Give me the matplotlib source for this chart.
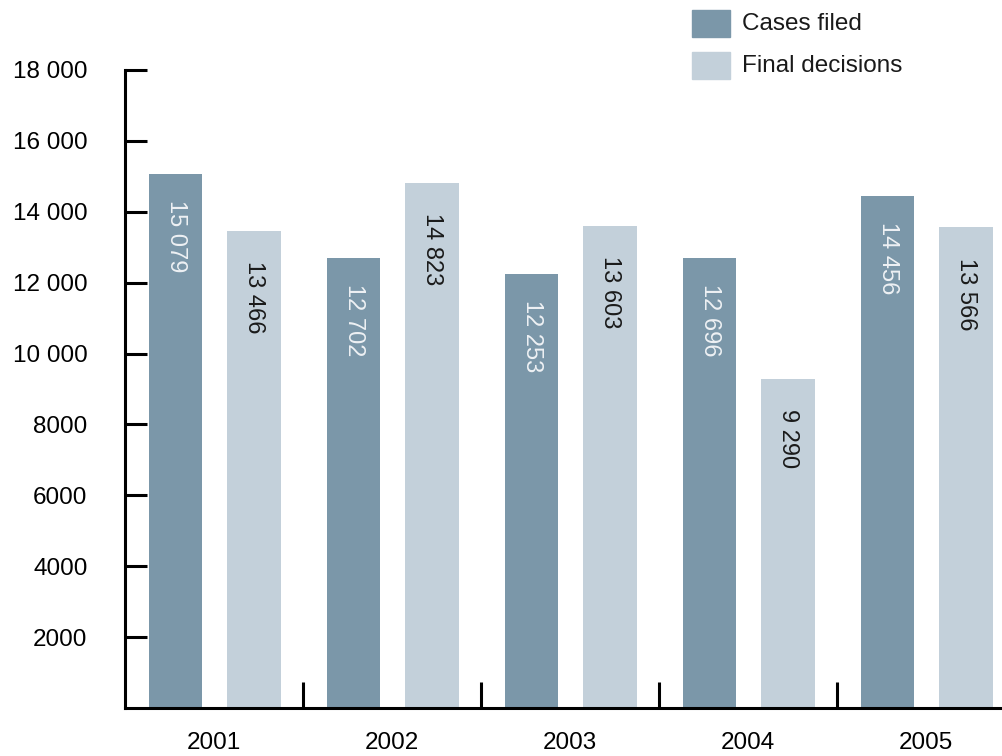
import matplotlib
matplotlib.use("Agg")
import matplotlib.pyplot as plt
from matplotlib.patches import Rectangle
import numpy as np

years = ["2001", "2002", "2003", "2004", "2005"]
cases_filed = [15079, 12702, 12253, 12696, 14456]
final_decisions = [13466, 14823, 13603, 9290, 13566]
ytick_values = [2000, 4000, 6000, 8000, 10000, 12000, 14000, 16000, 18000]
ytick_labels = ["2000", "4000", "6000", "8000", "10 000", "12 000", "14 000", "16 000", "18 000"]
series_names = ["Cases filed", "Final decisions"]

DARK = "#7b97a9"
LIGHT = "#c3d0da"
FONT = "Liberation Sans"

plt.rcParams["font.family"] = [FONT, "DejaVu Sans"]

W, H = 1003, 756
fig = plt.figure(figsize=(W / 100, H / 100), dpi=100)
ax = fig.add_axes([125 / W, (H - 708) / H, 1 - 125 / W, (708 - 70) / H])

n = len(years)
x0 = np.arange(n)
bw = 0.30
ax.bar(x0 + 0.285, cases_filed, width=bw, color=DARK, zorder=2)
ax.bar(x0 + 0.725, final_decisions, width=bw, color=LIGHT, zorder=2)


def fmt(v):
    return f"{v:,}".replace(",", " ")


for i in range(n):
    ax.annotate(fmt(cases_filed[i]), (x0[i] + 0.285, cases_filed[i]),
                xytext=(0, -19), textcoords="offset points",
                rotation=270, ha="center", va="top",
                fontsize=17, color="#eef1f4", zorder=3)
    ax.annotate(fmt(final_decisions[i]), (x0[i] + 0.725, final_decisions[i]),
                xytext=(0, -22), textcoords="offset points",
                rotation=270, ha="center", va="top",
                fontsize=17, color="#1a1a1a", zorder=3)

ax.set_xlim(0, (W - 125) / 178)
ax.set_ylim(0, 18000)

for s in ["top", "right"]:
    ax.spines[s].set_visible(False)
for s in ["left", "bottom"]:
    ax.spines[s].set_linewidth(2.2)
    ax.spines[s].set_color("black")
    ax.spines[s].set_zorder(4)

ax.set_yticks(ytick_values)
ax.set_yticklabels(ytick_labels)
ax.tick_params(axis="y", direction="in", length=16, width=2.2, pad=27,
               labelsize=17.5, colors="black")

ax.set_xticks(x0 + 0.5)
ax.set_xticklabels(years)
ax.set_xticks(np.arange(1, n), minor=True)
ax.tick_params(axis="x", which="major", length=0, pad=17, labelsize=17.5)
ax.tick_params(axis="x", which="minor", direction="in", length=19, width=2.2,
               color="black")

# Legend drawn as figure-level swatches and labels
for k, (name, col) in enumerate(zip(series_names, [DARK, LIGHT])):
    top = 10 + 42 * k
    fig.add_artist(Rectangle((692 / W, 1 - (top + 27) / H), 38 / W, 27 / H,
                             transform=fig.transFigure, color=col))
    fig.text(742 / W, 1 - (top + 14) / H, name, fontsize=17.5,
             ha="left", va="center", color="#1a1a1a")

fig.savefig("out.png", dpi=100)
